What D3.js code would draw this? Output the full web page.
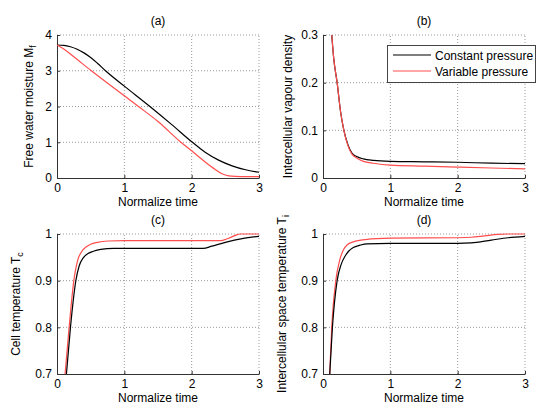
<!DOCTYPE html>
<html>
<head>
<meta charset="utf-8">
<script src="https://cdn.jsdelivr.net/npm/d3@7"></script>
<style>
  body { margin: 0; background: #fff; }
  text { font-family: "Liberation Sans", Arial, sans-serif; fill: #000; }
</style>
</head>
<body>
<div id="fig"></div>
<script>
// --- donnees ---
const xTicks = [0, 1, 2, 3];

// (a) humidite libre
const tA = [0, 0.1, 0.2, 0.3, 0.4, 0.5, 0.6, 0.72, 1, 1.38, 1.7, 2.01, 2.2, 2.4, 2.6, 2.8, 3];
const moistConst = [3.72, 3.71, 3.67, 3.60, 3.50, 3.37, 3.21, 3.0, 2.57, 2.0, 1.50, 1.0, 0.72, 0.50, 0.34, 0.23, 0.16];
const tAv = [0, 0.1, 0.25, 0.51, 1, 1.21, 1.5, 1.84, 2.0, 2.2, 2.35, 2.45, 2.55, 2.65, 2.8, 3];
const moistVar = [3.72, 3.61, 3.39, 3.0, 2.30, 2.0, 1.58, 1.0, 0.76, 0.45, 0.24, 0.12, 0.06, 0.045, 0.04, 0.04];
const yTicksA = [0, 1, 2, 3, 4];

// (b) densite de vapeur
const tB = [0.13, 0.16, 0.21, 0.26, 0.31, 0.37, 0.43, 0.5, 0.6, 0.75, 1, 1.5, 2, 2.5, 3];
const vapConst = [0.3, 0.25, 0.2, 0.14, 0.1, 0.07, 0.052, 0.045, 0.040, 0.037, 0.035, 0.034, 0.033, 0.031, 0.030];
const vapVar = [0.3, 0.25, 0.2, 0.14, 0.1, 0.068, 0.05, 0.042, 0.035, 0.031, 0.027, 0.025, 0.023, 0.021, 0.019];
const yTicksB = [0, 0.1, 0.2, 0.3];

// (c) temperature cellule
const tCc = [0.14, 0.2, 0.28, 0.33, 0.39, 0.46, 0.54, 0.65, 0.84, 1, 2, 2.17, 2.3, 2.5, 2.75, 3];
const cellConst = [0.7, 0.8, 0.9, 0.932, 0.949, 0.958, 0.963, 0.967, 0.969, 0.969, 0.969, 0.969, 0.974, 0.982, 0.99, 0.995];
const tCv = [0.12, 0.18, 0.25, 0.31, 0.37, 0.44, 0.5, 0.6, 0.76, 1, 2, 2.44, 2.55, 2.65, 2.72, 3];
const cellVar = [0.7, 0.8, 0.9, 0.945, 0.963, 0.973, 0.978, 0.982, 0.985, 0.986, 0.986, 0.986, 0.991, 0.997, 1.0, 1.0];

// (d) temperature espace intercellulaire
const tDc = [0.10, 0.14, 0.21, 0.27, 0.33, 0.38, 0.45, 0.55, 0.65, 1, 2, 2.2, 2.5, 2.75, 3];
const spaceConst = [0.7, 0.8, 0.9, 0.935, 0.953, 0.963, 0.971, 0.976, 0.979, 0.98, 0.98, 0.981, 0.987, 0.992, 0.995];
const tDv = [0.10, 0.13, 0.19, 0.25, 0.3, 0.36, 0.45, 0.63, 1, 2, 2.2, 2.4, 2.6, 2.75, 3];
const spaceVar = [0.7, 0.8, 0.9, 0.945, 0.965, 0.977, 0.983, 0.988, 0.991, 0.992, 0.993, 0.996, 0.999, 1.0, 1.0];
const yTicksT = [0.7, 0.8, 0.9, 1];

const legendLabels = ["Constant pressure", "Variable pressure"];
const black = "#000";
const red = "#ff4d4d";

const zip = (t, v) => t.map((d, i) => [d, v[i]]);

const svg = d3.select("#fig").append("svg")
  .attr("width", 536).attr("height", 405);

const panels = [
  { title: "(a)", x0: 57, x1: 259, y0: 178, y1: 35, dom: [0, 4], ticks: yTicksA, fmt: d3.format("d"),
    ylab: ["Free water moisture M", "f"], ylx: 33,
    series: [[tA, moistConst, black], [tAv, moistVar, red]] },
  { title: "(b)", x0: 323, x1: 525, y0: 178, y1: 35, dom: [0, 0.3], ticks: yTicksB, fmt: d => d === 0 ? "0" : d3.format(".1f")(d),
    ylab: ["Intercellular vapour density", ""], ylx: 292,
    series: [[tB, vapConst, black], [tB, vapVar, red]] },
  { title: "(c)", x0: 57, x1: 259, y0: 374, y1: 234, dom: [0.7, 1], ticks: yTicksT, fmt: d => d === 1 ? "1" : d3.format(".1f")(d),
    ylab: ["Cell temperature T", "c"], ylx: 20,
    series: [[tCv, cellVar, red], [tCc, cellConst, black]] },
  { title: "(d)", x0: 323, x1: 525, y0: 374, y1: 234, dom: [0.7, 1], ticks: yTicksT, fmt: d => d === 1 ? "1" : d3.format(".1f")(d),
    ylab: ["Intercellular space temperature T", "i"], ylx: 286,
    series: [[tDv, spaceVar, red], [tDc, spaceConst, black]] }
];

panels.forEach(p => {
  const x = d3.scaleLinear().domain([0, 3]).range([p.x0, p.x1]);
  const y = d3.scaleLinear().domain(p.dom).range([p.y0, p.y1]);
  const g = svg.append("g");

  // grille pointillee
  g.append("g").selectAll("line").data(xTicks.filter(d => d > 0)).join("line")
    .attr("x1", x).attr("x2", x).attr("y1", p.y0).attr("y2", p.y1)
    .attr("stroke", "#9a9a9a").attr("stroke-dasharray", "1,2");
  g.append("g").selectAll("line").data(p.ticks.filter(d => d > p.dom[0])).join("line")
    .attr("y1", y).attr("y2", y).attr("x1", p.x0).attr("x2", p.x1)
    .attr("stroke", "#9a9a9a").attr("stroke-dasharray", "1,2");

  // axes
  const ax = g.append("g").attr("transform", `translate(0,${p.y0})`)
    .call(d3.axisBottom(x).tickValues(xTicks).tickSizeInner(-3).tickSizeOuter(0).tickPadding(5).tickFormat(d3.format("d")));
  const ay = g.append("g").attr("transform", `translate(${p.x0},0)`)
    .call(d3.axisLeft(y).tickValues(p.ticks).tickSizeInner(-3).tickSizeOuter(0).tickPadding(5).tickFormat(p.fmt));
  [ax, ay].forEach(a => {
    a.select(".domain").attr("stroke", "#333");
    a.selectAll(".tick line").attr("stroke", "#333");
    a.selectAll("text").attr("font-size", 12).attr("font-family", "Liberation Sans, Arial, sans-serif").attr("fill", "#000");
  });
  ax.selectAll("text").attr("dy", "0.71em");

  // courbes
  const line = d3.line().x(d => x(d[0])).y(d => y(d[1])).curve(d3.curveMonotoneX);
  p.series.forEach(s => {
    g.append("path").datum(zip(s[0], s[1]))
      .attr("d", line).attr("fill", "none")
      .attr("stroke", s[2]).attr("stroke-width", 1.2);
  });

  // titres
  g.append("text").attr("x", (p.x0 + p.x1) / 2).attr("y", p.y1 - 10)
    .attr("text-anchor", "middle").attr("font-size", 12).text(p.title);
  g.append("text").attr("x", (p.x0 + p.x1) / 2).attr("y", p.y0 + 28)
    .attr("text-anchor", "middle").attr("font-size", 12).text("Normalize time");
  const yl = g.append("text")
    .attr("transform", `translate(${p.ylx},${(p.y0 + p.y1) / 2}) rotate(-90)`)
    .attr("text-anchor", "middle").attr("font-size", 12);
  yl.append("tspan").text(p.ylab[0]);
  if (p.ylab[1]) {
    yl.append("tspan").attr("font-size", 9).attr("dy", 3).text(p.ylab[1]);
  }
});

// legende
const leg = svg.append("g");
leg.append("rect").attr("x", 387.5).attr("y", 45.5).attr("width", 148).attr("height", 37)
  .attr("fill", "#fff").attr("stroke", "#444");
legendLabels.forEach((lab, i) => {
  const yy = 55 + i * 16;
  leg.append("line").attr("x1", 393).attr("x2", 431).attr("y1", yy).attr("y2", yy)
    .attr("stroke", i === 0 ? black : red).attr("stroke-width", 1.2);
  leg.append("text").attr("x", 435).attr("y", yy + 4.5).attr("font-size", 12).text(lab);
});
</script>
</body>
</html>
